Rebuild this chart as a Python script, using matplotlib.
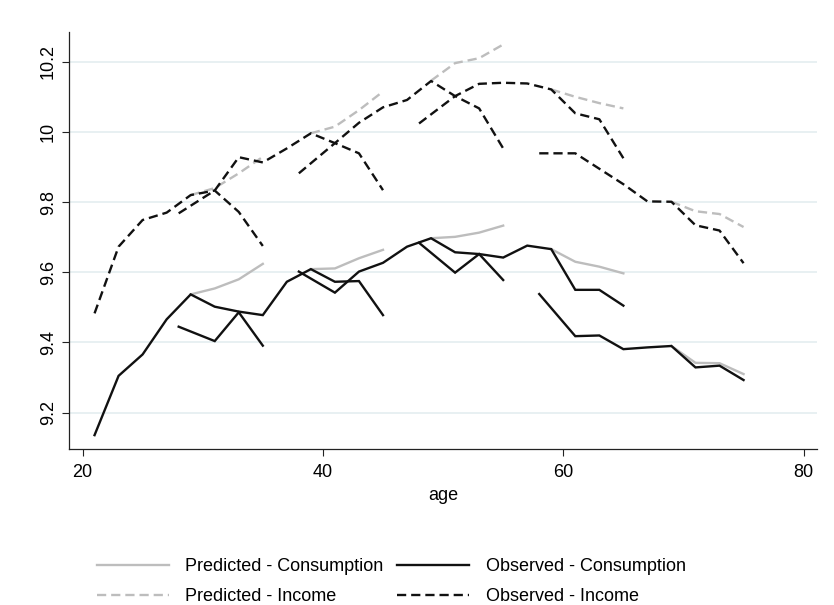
import numpy as np
import matplotlib
matplotlib.use("Agg")
import matplotlib.pyplot as plt
from matplotlib import font_manager as fm
from matplotlib.lines import Line2D

# ---- data: cohort profiles by age (log scale values) ----
# predicted consumption, one segment per cohort
pred_cons_ages = [[29, 31, 33, 35], [39, 41, 43, 45], [49, 51, 53, 55],
                  [59, 61, 63, 65], [69, 71, 73, 75]]
pred_cons_vals = [[9.537, 9.554, 9.580, 9.624],
                  [9.609, 9.611, 9.640, 9.664],
                  [9.697, 9.701, 9.713, 9.733],
                  [9.666, 9.630, 9.616, 9.597],
                  [9.390, 9.342, 9.341, 9.310]]

# observed consumption
obs_cons_ages = [[21, 23, 25, 27, 29, 31, 33, 35, 37, 39, 41, 43, 45],
                 [28, 31, 33, 35],
                 [38, 41, 43, 45, 47, 49, 51, 53, 55, 57, 59, 61, 63, 65],
                 [48, 51, 53, 55],
                 [58, 61, 63, 65, 67, 69, 71, 73, 75]]
obs_cons_vals = [[9.136, 9.305, 9.366, 9.466, 9.537, 9.502, 9.488, 9.478,
                  9.573, 9.609, 9.573, 9.575, 9.478],
                 [9.445, 9.404, 9.486, 9.391],
                 [9.602, 9.542, 9.602, 9.627, 9.673, 9.697, 9.657, 9.652,
                  9.642, 9.676, 9.666, 9.550, 9.550, 9.505],
                 [9.684, 9.599, 9.652, 9.578],
                 [9.538, 9.418, 9.420, 9.381, 9.386, 9.390, 9.329, 9.334,
                  9.293]]

# predicted income
pred_inc_ages = [[29, 31, 33, 35], [39, 41, 43, 45], [49, 51, 53, 55],
                 [59, 61, 63, 65], [69, 71, 73, 75]]
pred_inc_vals = [[9.820, 9.840, 9.882, 9.929],
                 [9.996, 10.015, 10.062, 10.115],
                 [10.146, 10.196, 10.210, 10.249],
                 [10.121, 10.100, 10.082, 10.067],
                 [9.801, 9.774, 9.766, 9.729]]

# observed income
obs_inc_ages = [[21, 23, 25, 27, 29, 31, 33, 35],
                [28, 31, 33, 35, 37, 39, 41, 43, 45],
                [38, 41, 43, 45, 47, 49, 51, 53, 55],
                [48, 51, 53, 55, 57, 59, 61, 63, 65],
                [58, 61, 63, 65, 67, 69, 71, 73, 75]]
obs_inc_vals = [[9.483, 9.673, 9.749, 9.770, 9.820, 9.833, 9.772, 9.675],
                [9.768, 9.833, 9.928, 9.913, 9.953, 9.996, 9.968, 9.939,
                 9.834],
                [9.882, 9.968, 10.026, 10.070, 10.091, 10.145, 10.102,
                 10.067, 9.953],
                [10.024, 10.102, 10.137, 10.140, 10.138, 10.121, 10.053,
                 10.036, 9.925],
                [9.939, 9.939, 9.895, 9.851, 9.802, 9.801, 9.734, 9.719,
                 9.626]]

x_ticks = [20, 40, 60, 80]
y_ticks = [9.2, 9.4, 9.6, 9.8, 10.0, 10.2]
y_tick_labels = ["9.2", "9.4", "9.6", "9.8", "10", "10.2"]
legend_labels = ["Predicted - Consumption", "Observed - Consumption",
                 "Predicted - Income", "Observed - Income"]

# ---- fonts ----
installed = {f.name for f in fm.fontManager.ttflist}
if "Liberation Sans Narrow" in installed:
    FAMILY, FS = "Liberation Sans Narrow", 15.0
else:
    FAMILY, FS = "Liberation Sans", 13.0
plt.rcParams["font.family"] = [FAMILY, "DejaVu Sans"]

GRAY = "#bdbdbd"
BLACK = "#111111"
LW = 1.7
DASH = (0, (3.9, 2.1))

fig = plt.figure(figsize=(8.34, 6.05), dpi=100)
fig.patch.set_facecolor("white")
ax = fig.add_axes([0.0831, 0.2579, 0.8965, 0.6897])

for yv in y_ticks:
    ax.axhline(yv, color="#e4edf0", lw=1.2, zorder=0)


def draw(ages, vals, color, ls):
    for a, v in zip(ages, vals):
        ax.plot(a, v, color=color, lw=LW, ls=ls,
                solid_joinstyle="miter", dash_capstyle="butt")


draw(pred_cons_ages, pred_cons_vals, GRAY, "-")
draw(obs_cons_ages, obs_cons_vals, BLACK, "-")
draw(pred_inc_ages, pred_inc_vals, GRAY, DASH)
draw(obs_inc_ages, obs_inc_vals, BLACK, DASH)

ax.set_xlim(18.90, 81.11)
ax.set_ylim(9.0966, 10.2855)
ax.set_xticks(x_ticks)
ax.set_yticks(y_ticks)
ax.set_yticklabels(y_tick_labels)
for s in ("top", "right"):
    ax.spines[s].set_visible(False)
for s in ("left", "bottom"):
    ax.spines[s].set_color("#222222")
    ax.spines[s].set_linewidth(0.9)
ax.tick_params(axis="both", direction="out", length=5, width=0.8,
               color="#222222", labelsize=FS, pad=4)
ax.tick_params(axis="x", pad=6)
ax.tick_params(axis="y", labelrotation=90)
for t in ax.get_yticklabels():
    t.set_va("center")
ax.set_xlabel("age", fontsize=FS, labelpad=4)

handles = [Line2D([], [], color=GRAY, lw=LW, ls="-"),
           Line2D([], [], color=GRAY, lw=LW, ls=DASH),
           Line2D([], [], color=BLACK, lw=LW, ls="-"),
           Line2D([], [], color=BLACK, lw=LW, ls=DASH)]
labels = [legend_labels[0], legend_labels[2],
          legend_labels[1], legend_labels[3]]
fig.legend(handles, labels, loc="upper left",
           bbox_to_anchor=(0.1163, 0.077), ncol=2, frameon=False,
           fontsize=FS, handlelength=4.0, handletextpad=0.9,
           columnspacing=0.75, labelspacing=0.7, borderpad=0,
           borderaxespad=0)

fig.savefig("out.png", dpi=100)
